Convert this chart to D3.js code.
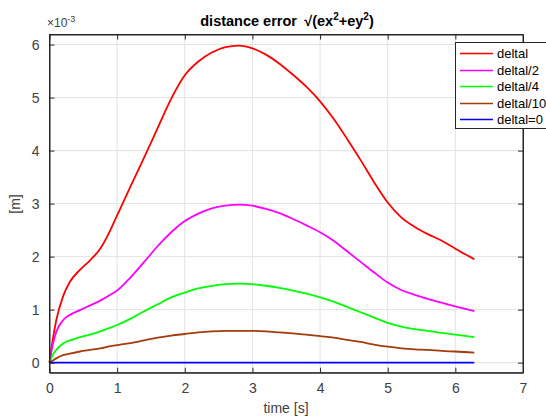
<!DOCTYPE html>
<html><head><meta charset="utf-8">
<script src="https://cdn.jsdelivr.net/npm/d3@7"></script>
<style>
body{margin:0;background:#fff;}
svg{display:block;font-family:"Liberation Sans",Arial,Helvetica,sans-serif;}
</style></head>
<body><svg id="c" width="546" height="419"></svg>
<script>
const time = [0,0.05,0.1,0.2,0.3,0.45,0.6,0.75,0.9,1.0,1.2,1.4,1.6,1.8,2.0,2.2,2.4,2.6,2.8,3.0,3.2,3.4,3.6,3.8,4.0,4.2,4.4,4.6,4.8,5.0,5.2,5.4,5.6,5.8,6.0,6.28];
const deltal   = [0,0.45,0.8,1.25,1.52,1.75,1.93,2.15,2.5,2.78,3.33,3.87,4.43,4.98,5.42,5.68,5.85,5.95,5.98,5.93,5.81,5.64,5.43,5.2,4.93,4.6,4.22,3.82,3.4,3.02,2.74,2.56,2.42,2.3,2.15,1.95];
const deltal2  = [0,0.35,0.58,0.8,0.9,0.99,1.08,1.17,1.28,1.36,1.61,1.9,2.2,2.46,2.67,2.81,2.91,2.96,2.98,2.96,2.9,2.82,2.71,2.59,2.46,2.3,2.1,1.9,1.7,1.51,1.37,1.28,1.2,1.13,1.06,0.97];
const deltal4  = [0,0.15,0.24,0.36,0.42,0.48,0.53,0.59,0.66,0.71,0.83,0.97,1.1,1.23,1.32,1.4,1.45,1.48,1.49,1.48,1.45,1.41,1.36,1.3,1.23,1.15,1.05,0.95,0.85,0.75,0.68,0.63,0.6,0.56,0.53,0.48];
const deltal10 = [0,0.04,0.08,0.14,0.17,0.21,0.24,0.27,0.31,0.33,0.37,0.42,0.47,0.51,0.54,0.57,0.59,0.6,0.6,0.6,0.59,0.57,0.55,0.53,0.5,0.47,0.43,0.39,0.34,0.3,0.27,0.25,0.24,0.22,0.21,0.19];
const deltal0  = time.map(()=>0);
const seriesNames = ["deltal","deltal/2","deltal/4","deltal/10","deltal=0"];
const seriesColors = ["#ff0000","#ff00ff","#00ff00","#a33c0a","#0000ff"];
const seriesData = [deltal,deltal2,deltal4,deltal10,deltal0];
const xTicks = [0,1,2,3,4,5,6,7];
const yTicks = [0,1,2,3,4,5,6];

const svg = d3.select("#c");
const L=49.5, R=523, T=34.5, B=372.7;
const x = d3.scaleLinear().domain([0,7]).range([L,R]);
const y = d3.scaleLinear().domain([-0.19,6.19]).range([B,T]);
const axisCol="#262626", txtCol="#404040";

svg.append("rect").attr("x",L).attr("y",T).attr("width",R-L).attr("height",B-T).attr("fill","#fff");
const g = svg.append("g");
g.selectAll(".gx").data(xTicks.slice(1,-1)).enter().append("line")
 .attr("x1",d=>x(d)).attr("x2",d=>x(d)).attr("y1",T).attr("y2",B).attr("stroke","#e3e3e3").attr("stroke-width",1);
g.selectAll(".gy").data(yTicks).enter().append("line")
 .attr("y1",d=>y(d)).attr("y2",d=>y(d)).attr("x1",L).attr("x2",R).attr("stroke","#e3e3e3").attr("stroke-width",1);

const line = d3.line().x((d,i)=>x(time[i])).y(d=>y(d)).curve(d3.curveMonotoneX);
seriesData.forEach((s,k)=>{
  svg.append("path").attr("d",line(s)).attr("fill","none").attr("stroke",seriesColors[k]).attr("stroke-width",1.8);
});

const fmt = d3.format("d");
const xb = d3.axisBottom(x).tickValues(xTicks).tickFormat(fmt).tickSizeInner(-5).tickSizeOuter(0).tickPadding(10);
const xt = d3.axisTop(x).tickValues(xTicks).tickSizeInner(-5).tickSizeOuter(0).tickFormat("");
const yl = d3.axisLeft(y).tickValues(yTicks).tickFormat(fmt).tickSizeInner(-5).tickSizeOuter(0).tickPadding(10);
const yr = d3.axisRight(y).tickValues(yTicks).tickSizeInner(-5).tickSizeOuter(0).tickFormat("");
function style(sel){
  sel.selectAll("path").attr("stroke",axisCol).attr("stroke-width",1);
  sel.selectAll("line").attr("stroke",axisCol);
  sel.selectAll("text").attr("fill",txtCol).style("font-size","14px").style("font-family","'Liberation Sans',Arial,sans-serif");
}
svg.append("g").attr("transform",`translate(0,${B})`).call(xb).call(style);
svg.append("g").attr("transform",`translate(0,${T})`).call(xt).call(style);
svg.append("g").attr("transform",`translate(${L},0)`).call(yl).call(style);
svg.append("g").attr("transform",`translate(${R},0)`).call(yr).call(style);
svg.append("rect").attr("x",L).attr("y",T).attr("width",R-L).attr("height",B-T).attr("fill","none").attr("stroke",axisCol).attr("stroke-width",1);

const ex = svg.append("text").attr("x",47).attr("y",27).attr("fill",txtCol).style("font-size","12px");
ex.append("tspan").text("×10");
ex.append("tspan").attr("dy",-5).style("font-size","9px").text("-3");

const tt = svg.append("text").attr("x",287).attr("y",26).attr("text-anchor","middle").attr("fill","#000")
  .style("font-size","14.5px").style("font-weight","bold").attr("xml:space","preserve");
tt.append("tspan").text("distance error\u2002\u221A(ex");
tt.append("tspan").attr("dy",-6).style("font-size","10px").text("2");
tt.append("tspan").attr("dy",6).text("+ey");
tt.append("tspan").attr("dy",-6).style("font-size","10px").text("2");
tt.append("tspan").attr("dy",6).text(")");

svg.append("text").attr("x",286).attr("y",413).attr("text-anchor","middle").attr("fill",txtCol).style("font-size","14px").text("time [s]");
svg.append("text").attr("transform","translate(20,204) rotate(-90)").attr("text-anchor","middle").attr("fill",txtCol).style("font-size","14px").text("[m]");

const lg = svg.append("g");
lg.append("rect").attr("x",455.5).attr("y",42.5).attr("width",110).attr("height",86).attr("fill","#fff").attr("stroke",axisCol).attr("stroke-width",1);
seriesNames.forEach((n,k)=>{
  const yy = Math.round(53 + k*16.5)+0.5;
  lg.append("line").attr("x1",460).attr("x2",493).attr("y1",yy).attr("y2",yy).attr("stroke",seriesColors[k]).attr("stroke-width",1.5);
  lg.append("text").attr("x",497).attr("y",yy+4.5).attr("fill","#000").style("font-size","13px").text(n);
});
</script></body></html>
